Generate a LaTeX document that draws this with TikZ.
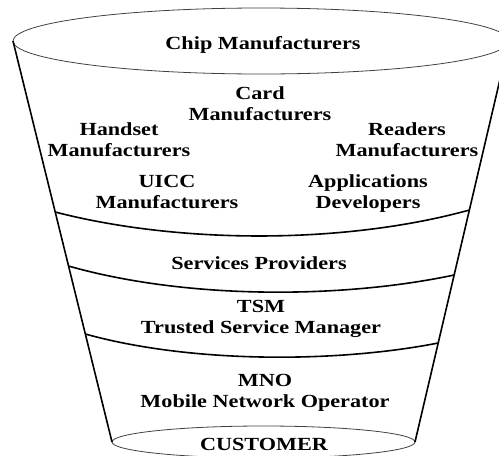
\documentclass[tikz,border=0pt]{standalone}
\usepackage{fontspec}
\setmainfont{Liberation Serif}[FakeStretch=1.2]
\usepackage{tikz}

\begin{document}
\begin{tikzpicture}[x=1pt,y=-1pt,line join=round,
  lbl/.style={align=center,inner sep=0pt,font=\bfseries\fontsize{18.5}{21}\selectfont},
  rim/.style={line width=.8pt,draw=black!75},
  wall/.style={line width=1.6pt}]
\useasboundingbox (0,0) rectangle (499,456);
% funnel corners
\coordinate (tl) at (13,41);\coordinate (tr) at (509,41);
\coordinate (bl) at (112,442);\coordinate (br) at (415,442);
% rims
\draw[rim] (261,41) ellipse [x radius=248,y radius=33];
\draw[rim] (263.5,442) ellipse [x radius=151.5,y radius=16];
% sides
\draw[wall] (tl)--(bl);
\draw[wall] (tr)--(br);
% bands
\coordinate (a1) at (55.1,212);\coordinate (b1) at (469.5,210);
\coordinate (a2) at (68.4,266);\coordinate (b2) at (454.2,275);
\coordinate (a3) at (85.3,334);\coordinate (b3) at (438.3,343);
\draw[wall] (a1) .. controls (180,244.3) and (345,244.3) .. (b1);
\draw[wall] (a2) .. controls (185,299.2) and (340,299.2) .. (b2);
\draw[wall] (a3) .. controls (190,363.2) and (335,363.2) .. (b3);
% labels
\node[lbl] (chip) at (263,45) {Chip Manufacturers};
\node[lbl] (card) at (260,103.5) {Card\\Manufacturers};
\node[lbl] (handset) at (119,139.5) {Handset\\Manufacturers};
\node[lbl] (readers) at (407,140) {Readers\\Manufacturers};
\node[lbl] (uicc) at (167,192) {UICC\\Manufacturers};
\node[lbl] (apps) at (368,194) {Applications\\Developers};
\node[lbl] (sp) at (259,263) {Services Providers};
\node[lbl] (tsm) at (261,319) {TSM\\Trusted Service Manager};
\node[lbl] (mno) at (265,393) {MNO\\Mobile Network Operator};
\node[lbl] (cust) at (264,444) {CUSTOMER};
\end{tikzpicture}
\end{document}
